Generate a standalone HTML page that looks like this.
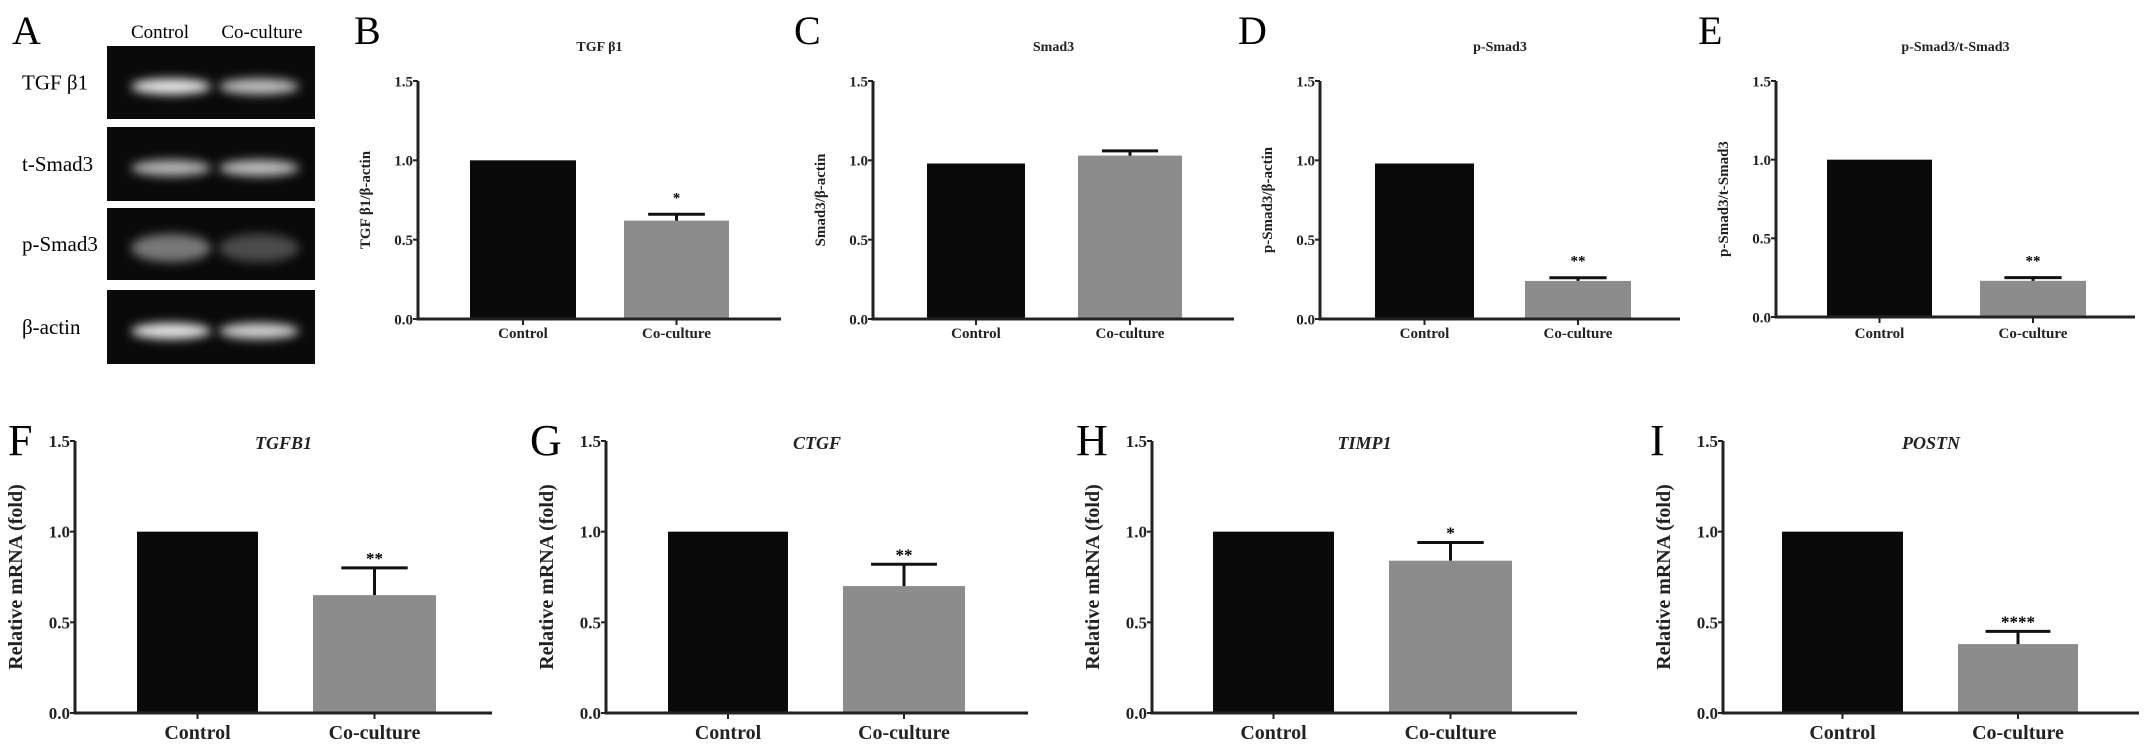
<!DOCTYPE html>
<html><head><meta charset="utf-8"><style>
body{margin:0;background:#fff;}
svg{display:block;font-family:"Liberation Serif",serif;}
</style></head><body>
<svg id="fig" width="2150" height="754" viewBox="0 0 2150 754" xmlns="http://www.w3.org/2000/svg">
<defs><filter id="blur" x="-30%" y="-100%" width="160%" height="300%"><feGaussianBlur stdDeviation="5"/></filter></defs>
<g id="blot">
<text x="12" y="44" font-size="40">A</text>
<text x="160" y="38" font-size="19" text-anchor="middle">Control</text>
<text x="262" y="38" font-size="19" text-anchor="middle">Co-culture</text>
</g>
<g id="charts"></g>
</svg>
<script>
const blotRows = ["TGF β1","t-Smad3","p-Smad3","β-actin"];
const blotIntensity = [[0.95,0.75],[0.7,0.75],[0.4,0.18],[0.95,0.85]];

const panelLetters = ["B","C","D","E","F","G","H","I"];
const panelTitles = ["TGF β1","Smad3","p-Smad3","p-Smad3/t-Smad3","TGFB1","CTGF","TIMP1","POSTN"];
const yLabels = ["TGF β1/β-actin","Smad3/β-actin","p-Smad3/β-actin","p-Smad3/t-Smad3","Relative mRNA (fold)","Relative mRNA (fold)","Relative mRNA (fold)","Relative mRNA (fold)"];
const categories = ["Control","Co-culture"];
const controlValues = [1.0,0.98,0.98,1.0,1.0,1.0,1.0,1.0];
const cocultureValues = [0.62,1.03,0.24,0.23,0.65,0.70,0.84,0.38];
const cocultureErrors = [0.04,0.03,0.02,0.02,0.15,0.12,0.10,0.07];
const significance = ["*","","**","**","**","**","*","****"];
const yTicks = [0,0.5,1.0,1.5];
const yTickLabels = ["0.0","0.5","1.0","1.5"];
const yMax = 1.5;

const NS="http://www.w3.org/2000/svg";
function mk(tag,attrs,parent,text){const e=document.createElementNS(NS,tag);for(const k in attrs)e.setAttribute(k,attrs[k]);if(text!==undefined)e.textContent=text;parent.appendChild(e);return e;}

const blotG=document.getElementById('blot');
const boxY=[[46,119],[127,201],[208,280],[290,364]];
blotRows.forEach((r,i)=>{
  const y0=boxY[i][0],y1=boxY[i][1];
  const rect=mk('rect',{x:107,y:y0,width:208,height:y1-y0,fill:'#0a0a0a'},blotG);
  
  
  const cy=(y0+y1)/2+4;
  [0,1].forEach(j=>{
    const v=blotIntensity[i][j];
    const g=Math.round(40+200*v);
    const el=mk('ellipse',{cx:j?259:171,cy:cy,rx:40,ry:i==2?14:8,fill:`rgb(${g},${g},${g})`,filter:'url(#blur)'},blotG);
    
    
  });
  const t=mk('text',{x:22,y:(y0+y1)/2+7,'font-size':21},blotG,r);
  
  
});

const layout=[
 {ax:418,top:81,bot:319,end:781,b1:[470,576],b2:[624,729],lx:354,ly:44,ty:51,fs:15,ls:15,ts:14,lfs:40,ylx:370,xly:338},
 {ax:873,top:81,bot:319,end:1234,b1:[927,1025],b2:[1078,1182],lx:794,ly:44,ty:51,fs:15,ls:15,ts:14,lfs:40,ylx:825,xly:338},
 {ax:1320,top:81,bot:319,end:1680,b1:[1375,1474],b2:[1525,1631],lx:1238,ly:44,ty:51,fs:15,ls:15,ts:14,lfs:40,ylx:1272,xly:338},
 {ax:1776,top:81,bot:317,end:2135,b1:[1827,1932],b2:[1980,2086],lx:1698,ly:44,ty:51,fs:15,ls:15,ts:14,lfs:40,ylx:1728,xly:338},
 {ax:75,top:441,bot:713,end:492,b1:[137,258],b2:[313,436],lx:8,ly:455,ty:449,fs:17,ls:20,ts:18,lfs:44,ylx:22,xly:739},
 {ax:606,top:441,bot:713,end:1028,b1:[668,788],b2:[843,965],lx:530,ly:455,ty:449,fs:17,ls:20,ts:18,lfs:44,ylx:553,xly:739},
 {ax:1152,top:441,bot:713,end:1577,b1:[1213,1334],b2:[1389,1512],lx:1076,ly:455,ty:449,fs:17,ls:20,ts:18,lfs:44,ylx:1099,xly:739},
 {ax:1723,top:441,bot:713,end:2139,b1:[1782,1903],b2:[1958,2078],lx:1650,ly:455,ty:449,fs:17,ls:20,ts:18,lfs:44,ylx:1670,xly:739}
];
const root=document.getElementById('charts');
layout.forEach((L,i)=>{
  const g=mk('g',{},root);
  
  
  const y=v=>L.bot-(v/yMax)*(L.bot-L.top);
  const lt=mk('text',{x:L.lx,y:L.ly,'font-size':L.lfs},g,panelLetters[i]);
  
  
  const tt=mk('text',{x:(L.ax+L.end)/2,y:L.ty,'font-size':L.ts,'font-weight':'bold','text-anchor':'middle','font-style':i>=4?'italic':'normal',fill:'#222'},g,panelTitles[i]);
  
  
  [[L.b1,controlValues[i],'#0a0a0a'],[L.b2,cocultureValues[i],'#8c8c8c']].forEach((b,j)=>{
    const r=mk('rect',{x:b[0][0],y:y(b[1]),width:b[0][1]-b[0][0],height:L.bot-y(b[1]),fill:b[2]},g);
    
    
  });
  const cx=(L.b2[0]+L.b2[1])/2, top=y(cocultureValues[i]+cocultureErrors[i]);
  const ew=(L.b2[1]-L.b2[0])*0.27;
  const eb=mk('path',{d:`M${cx},${y(cocultureValues[i])}V${top}M${cx-ew},${top}H${cx+ew}`,stroke:'#111','stroke-width':3,fill:'none'},g);
  
  
  if(significance[i]){
    const s=mk('text',{x:cx,y:top-(i<4?12:4),'font-size':L.fs,'font-weight':'bold','text-anchor':'middle'},g,significance[i]);
    
    
  }
  const ax=mk('path',{d:`M${L.ax},${L.top}V${L.bot}H${L.end}`,stroke:'#222','stroke-width':3,fill:'none'},g);
  
  
  yTicks.forEach((t,k)=>{
    const tk=mk('line',{x1:L.ax-5,x2:L.ax,y1:y(t),y2:y(t),stroke:'#222','stroke-width':2},g);
    
    
    const tl=mk('text',{x:L.ax-5,y:y(t)+L.fs*0.35,'font-size':L.fs,'font-weight':'bold','text-anchor':'end',fill:'#222'},g,yTickLabels[k]);
    
    
  });
  [L.b1,L.b2].forEach((b,j)=>{
    const bx=(b[0]+b[1])/2;
    const tk=mk('line',{x1:bx,x2:bx,y1:L.bot,y2:L.bot+6,stroke:'#222','stroke-width':2},g);
    
    
    const xl=mk('text',{x:bx,y:L.xly,'font-size':L.ls,'font-weight':'bold','text-anchor':'middle',fill:'#222'},g,categories[j]);
    
    
  });
  const my=(L.top+L.bot)/2;
  const yl=mk('text',{x:L.ylx,y:my,'font-size':L.ls,'font-weight':'bold','text-anchor':'middle',transform:`rotate(-90 ${L.ylx} ${my})`,fill:'#222'},g,yLabels[i]);
  
  
});
</script>
</body></html>
